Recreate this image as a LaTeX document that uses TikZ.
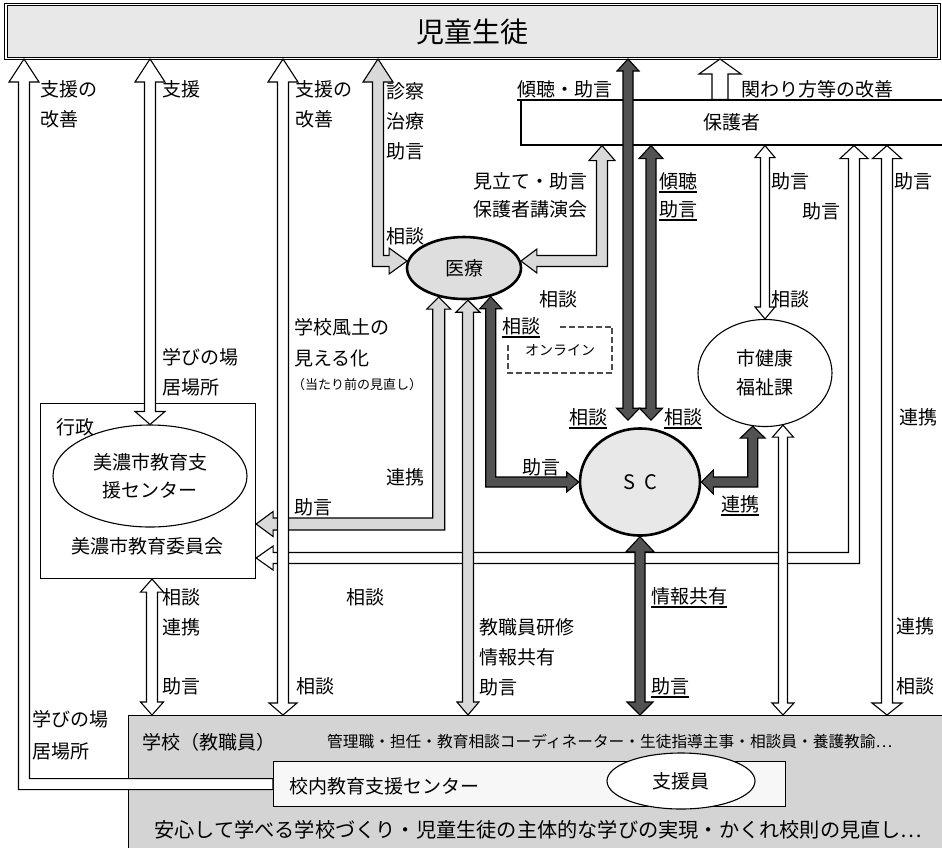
\documentclass[tikz,border=0pt]{standalone}
\usepackage{fontspec}
\setmainfont{Noto Sans CJK JP}
\usetikzlibrary{calc,shapes.geometric}

\def\arW{5.5pt}\def\arH{15pt}\def\arL{13pt}\def\arHb{15pt}\def\arLb{13pt}
\newcommand\lblfont{\fontsize{19}{30}\selectfont}
\newcommand\myul[1]{\setbox0=\hbox{#1}\leavevmode\rlap{\raisebox{-4.5pt}{\rule{\wd0}{1.2pt}}}\box0}

\tikzset{
  ahw/.store in=\arW, ahh/.store in=\arH, ahl/.store in=\arL,
  ahhb/.store in=\arHb, ahlb/.store in=\arLb,
  arr/.style={draw=black, line width=1.1pt, line join=miter},
  warr/.style={arr, fill=white},
  garr/.style={arr, fill=black!15},
  darr/.style={arr, fill=black!68},
  box/.style={draw, line width=1.1pt, inner sep=0pt},
  ell/.style={ellipse, draw, line width=1.1pt, inner sep=0pt},
  thickell/.style={ellipse, draw, line width=2.6pt, inner sep=0pt},
  lbl/.style={anchor=north west, inner sep=0pt, align=left, font=\lblfont},
}

% vertical block arrow, heads at both ends (#2 top apex, #3 bottom apex)
\newcommand\vArrow[3][]{\draw[#1] let \p1=(#2), \p2=(#3) in
 (\x1,\y1) -- ({\x1+\arH},{\y1-\arL}) -- ({\x1+\arW},{\y1-\arL}) -- ({\x1+\arW},{\y2+\arLb}) -- ({\x1+\arHb},{\y2+\arLb}) -- (\x1,\y2) -- ({\x1-\arHb},{\y2+\arLb}) -- ({\x1-\arW},{\y2+\arLb}) -- ({\x1-\arW},{\y1-\arL}) -- ({\x1-\arH},{\y1-\arL}) -- cycle;}
% vertical block arrow, head at top only
\newcommand\vArrowUp[3][]{\draw[#1] let \p1=(#2), \p2=(#3) in
 (\x1,\y1) -- ({\x1+\arH},{\y1-\arL}) -- ({\x1+\arW},{\y1-\arL}) -- ({\x1+\arW},\y2) -- ({\x1-\arW},\y2) -- ({\x1-\arW},{\y1-\arL}) -- ({\x1-\arH},{\y1-\arL}) -- cycle;}
% L-shaped block arrow: down from #2 (apex, head up), then sideways to #3 (apex)
\newcommand\lArrow[3][]{\draw[#1] let \p1=(#2), \p2=(#3), \n1={(\x2>\x1)?1:-1} in
 (\x1,\y1) -- ({\x1-(\n1)*\arH},{\y1-\arL}) -- ({\x1-(\n1)*\arW},{\y1-\arL}) -- ({\x1-(\n1)*\arW},{\y2-\arW}) -- ({\x2-(\n1)*\arLb},{\y2-\arW}) -- ({\x2-(\n1)*\arLb},{\y2-\arHb}) -- (\x2,\y2) -- ({\x2-(\n1)*\arLb},{\y2+\arHb}) -- ({\x2-(\n1)*\arLb},{\y2+\arW}) -- ({\x1+(\n1)*\arW},{\y2+\arW}) -- ({\x1+(\n1)*\arW},{\y1-\arL}) -- ({\x1+(\n1)*\arH},{\y1-\arL}) -- cycle;}
% L-shaped arrow, head at start only, going right
\newcommand\lArrowOne[3][]{\draw[#1] let \p1=(#2), \p2=(#3) in
 (\x1,\y1) -- ({\x1-\arH},{\y1-\arL}) -- ({\x1-\arW},{\y1-\arL}) -- ({\x1-\arW},{\y2-\arW}) -- (\x2,{\y2-\arW}) -- (\x2,{\y2+\arW}) -- ({\x1+\arW},{\y2+\arW}) -- ({\x1+\arW},{\y1-\arL}) -- ({\x1+\arH},{\y1-\arL}) -- cycle;}

\begin{document}
\begin{tikzpicture}[x=1pt,y=-1pt]
\useasboundingbox (0,0) rectangle (942,847);
\fill[white] (0,0) rectangle (942,847);

% ---------- main nodes ----------
\node[draw, line width=1pt, double=white, double distance=1.6pt, fill=black!9,
      minimum width=933pt, minimum height=54pt, font=\fontsize{28}{30}\selectfont] (top) at (472.5,31.5) {児童生徒};
\node[box, fill=white, minimum width=422pt, minimum height=45pt, font=\lblfont] (parent) at (732,122.5) {保護者};
\node[box, fill=black!17, anchor=north west, minimum width=830pt, minimum height=145pt] (school) at (128,715) {};
\node[box, fill=white, anchor=north west, minimum width=215pt, minimum height=175pt] (admin) at (40,403) {};
\node[ell, fill=white, minimum width=194pt, minimum height=102pt, align=center, font=\fontsize{19}{28}\selectfont] (cen) at (150,476) {美濃市教育支\\援センター};
\node[thickell, fill=black!13, minimum width=114pt, minimum height=62pt, font=\lblfont] (med) at (464,268) {医療};
\node[thickell, fill=black!9, minimum width=120pt, minimum height=107pt, font=\fontsize{20}{24}\selectfont] (sc) at (640,482) {S\hspace{0.45em}C};
\node[ell, fill=white, minimum width=134pt, minimum height=107pt, align=center, font=\fontsize{19}{29}\selectfont] (health) at (765,373) {市健康\\福祉課};
\node[box, fill=black!3, anchor=north west, minimum width=512pt, minimum height=45pt] (inner) at (273,761) {};
\node[ell, fill=white, minimum width=148pt, minimum height=56pt, font=\lblfont] (staff) at (681,781) {支援員};
\node[inner sep=0pt, minimum width=104pt, minimum height=46pt, font=\fontsize{14}{16}\selectfont] (online) at (560,350) {オンライン};
\draw[black!70, line width=1.6pt, dash pattern=on 6pt off 3pt]
  ($(online.north west)+(52,0)$) -- (online.north east) -- (online.south east) -- (online.south west) -- ($(online.north west)+(0,18)$);

% ---------- helper coordinates ----------
\coordinate (x24) at (24,0);
\coordinate (x152) at (152,0);
\coordinate (x283) at (283,0);
\coordinate (x378) at (378,0);
\coordinate (x602) at (602,0);
\coordinate (x628) at (628,0);
\coordinate (x651) at (651,0);
\coordinate (x720) at (720,0);
\coordinate (x854) at (854,0);
\coordinate (x887) at (887,0);
\coordinate (yg) at (0,524);
\coordinate (yw) at (0,558);
\coordinate (sctop) at ($(sc.north)+(0,-7)$);

% ---------- connectors ----------
\lArrow[warr, ahw=5.5pt, ahh=14pt, ahl=13pt, ahhb=12pt, ahlb=17pt]{parent.south -| x854}{admin.east |- yw}
\lArrow[garr, ahw=6pt, ahh=12pt, ahl=12pt, ahhb=12.5pt, ahlb=17pt]{med.229}{admin.east |- yg}

\lArrowOne[warr, ahw=5.5pt, ahh=15pt, ahl=23pt]{top.south -| x24}{inner.west}
\vArrow[warr, ahw=5.5pt, ahh=15pt, ahl=23pt, ahhb=15pt, ahlb=13pt]{top.south -| cen.north}{cen.north}
\vArrow[warr, ahw=5.5pt, ahh=15pt, ahl=23pt, ahhb=14pt, ahlb=12pt]{top.south -| x283}{school.north -| x283}
\lArrow[garr, ahw=5.5pt, ahh=15pt, ahl=23pt, ahhb=13pt, ahlb=18pt]{top.south -| x378}{med.173}
\lArrow[garr, ahw=5.5pt, ahh=13pt, ahl=15pt, ahhb=12pt, ahlb=16pt]{parent.south -| x602}{med.7}
\vArrow[darr, ahw=5pt, ahh=11pt, ahl=12pt, ahhb=11.5pt, ahlb=12pt]{top.south -| x628}{sctop -| x628}
\vArrow[darr, ahw=5pt, ahh=12pt, ahl=13pt, ahhb=11.5pt, ahlb=12pt]{parent.south -| x651}{sctop -| x651}
\vArrowUp[warr, ahw=8pt, ahh=21pt, ahl=15pt]{top.south -| x720}{parent.north -| x720}
\vArrow[warr, ahw=4.5pt, ahh=10pt, ahl=12pt, ahhb=10pt, ahlb=12pt]{parent.south -| health.north}{health.north}
\vArrow[warr, ahw=5.5pt, ahh=14.5pt, ahl=13pt, ahhb=15pt, ahlb=12pt]{parent.south -| x887}{school.north -| x887}
\vArrow[garr, ahw=5.5pt, ahh=12pt, ahl=12pt, ahhb=11pt, ahlb=13pt]{med.277}{school.north -| med.277}
\lArrow[darr, ahw=5pt, ahh=11pt, ahl=12pt, ahhb=10pt, ahlb=12pt]{med.313}{sc.west}
\lArrow[darr, ahw=5pt, ahh=12.5pt, ahl=12pt, ahhb=12pt, ahlb=12pt]{health.257}{sc.east}
\vArrow[warr, ahw=4.5pt, ahh=10.5pt, ahl=12pt, ahhb=11pt, ahlb=12pt]{health.289}{school.north -| health.289}
\vArrow[darr, ahw=5pt, ahh=14pt, ahl=15pt, ahhb=13pt, ahlb=13pt]{sc.south}{school.north -| sc.south}
\vArrow[warr, ahw=5.5pt, ahh=11.5pt, ahl=13pt, ahhb=11.5pt, ahlb=13pt]{admin.south -| x152}{school.north -| x152}

% ---------- labels ----------
\node[lbl] (n1) at (40,80) {支援の\\改善};
\node[lbl] (n2) at (162,80) {支援};
\node[lbl] (n3) at (295,80) {支援の\\改善};
\node[lbl] (n4) at (386,82) {診察\\治療\\助言};
\node[lbl] (n5) at (386,227) {相談};
\node[lbl, anchor=north east, align=right, font=\fontsize{19}{28}\selectfont] (n6) at (588,172) {見立て・助言\\保護者講演会};
\node[lbl] (n7) at (517,80) {\myul{傾聴・助言}};
\node[lbl] (n8) at (741,80) {関わり方等の改善};
\node[lbl, font=\fontsize{19}{28}\selectfont] (n9) at (659,172) {\myul{傾聴}\\\myul{助言}};
\node[lbl] (n10) at (771,172) {助言};
\node[lbl] (n11) at (802,202) {助言};
\node[lbl] (n12) at (894,172) {助言};
\node[lbl] (n13) at (771,290) {相談};
\node[lbl] (n14) at (539,290) {相談};
\node[lbl] (n15) at (502,317) {\myul{相談}};
\node[lbl, font=\fontsize{19}{31}\selectfont] (n16) at (294,318) {学校風土の\\見える化};
\node[lbl, font=\fontsize{13}{15}\selectfont] (n17) at (292,378) {（当たり前の見直し）};
\node[lbl] (n18) at (162,348) {学びの場\\居場所};
\node[lbl] (n19) at (56,418) {行政};
\node[lbl] (n20) at (386,468) {連携};
\node[lbl] (n21) at (294,498) {助言};
\node[lbl] (n22) at (522,458) {助言};
\node[lbl] (n23) at (569,408) {\myul{相談}};
\node[lbl] (n24) at (664,408) {\myul{相談}};
\node[lbl] (n25) at (721,495) {\myul{連携}};
\node[lbl] (n26) at (899,408) {連携};
\node[lbl] (n27) at (162,588) {相談\\連携};
\node[lbl] (n28) at (162,677) {助言};
\node[lbl] (n29) at (346,588) {相談};
\node[lbl] (n30) at (296,677) {相談};
\node[lbl] (n31) at (479,618) {教職員研修\\情報共有\\助言};
\node[lbl] (n32) at (651,587) {\myul{情報共有}};
\node[lbl] (n33) at (651,677) {\myul{助言}};
\node[lbl] (n34) at (896,617) {連携};
\node[lbl] (n35) at (896,677) {相談};
\node[lbl, font=\fontsize{19}{32}\selectfont] (n36) at (32,710) {学びの場\\居場所};
\node[font=\lblfont, inner sep=0pt] (n37) at (147,546) {美濃市教育委員会};
\node[lbl] (n38) at (142,733) {学校（教職員）};
\node[lbl, font=\fontsize{15.7}{18}\selectfont] (n39) at (327,734) {管理職・担任・教育相談コーディネーター・生徒指導主事・相談員・養護教諭…};
\node[lbl] (n40) at (289,777) {校内教育支援センター};
\node[lbl, font=\fontsize{20.2}{24}\selectfont] (n41) at (154,820) {安心して学べる学校づくり・児童生徒の主体的な学びの実現・かくれ校則の見直し…};
\end{tikzpicture}
\end{document}
